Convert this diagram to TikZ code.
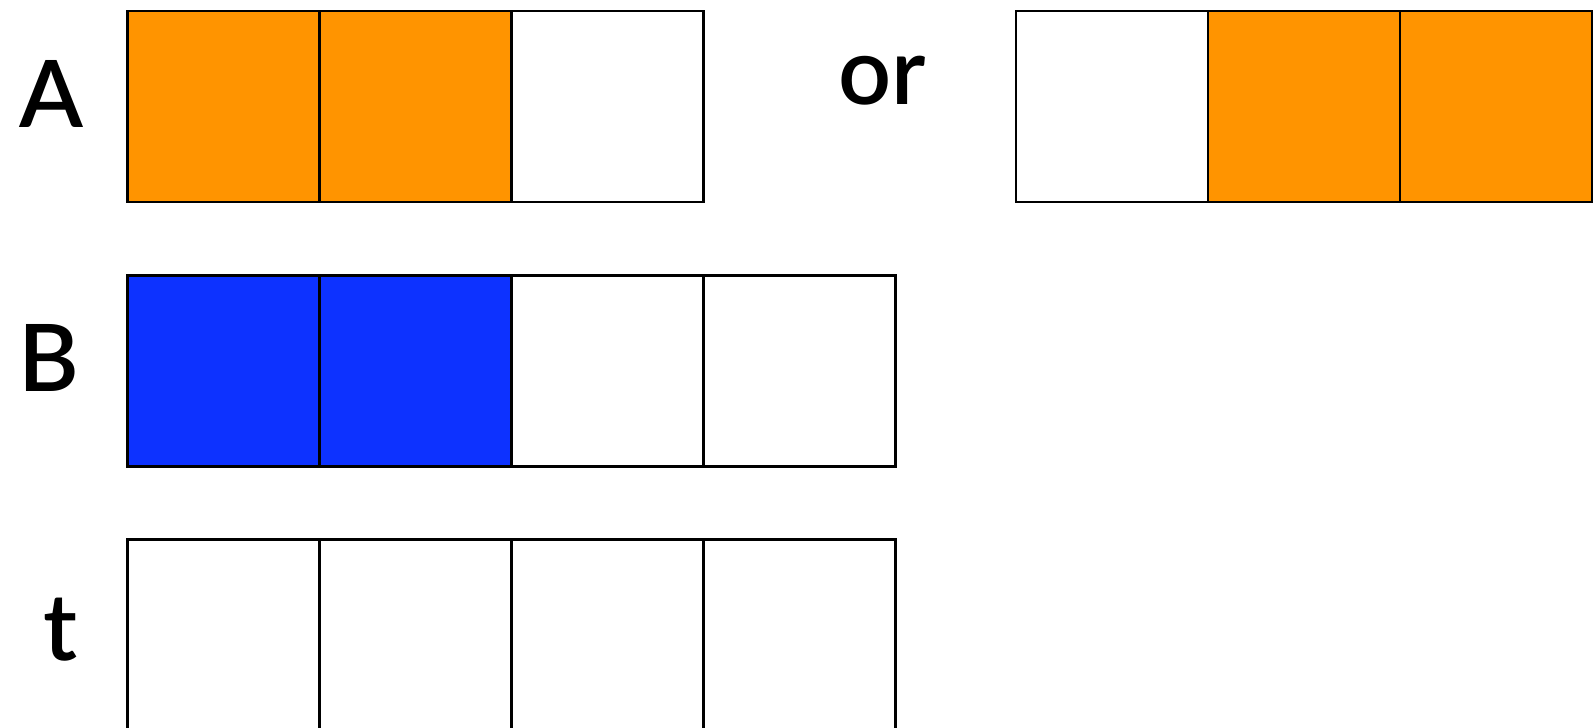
\documentclass[tikz,border=0pt]{standalone}
\usepackage{fontspec}
\setmainfont{Lato}
\newfontfamily\lblfont{Lato Semibold}
\usetikzlibrary{positioning}
\definecolor{cellorange}{RGB}{255,148,0}
\definecolor{cellblue}{RGB}{13,50,255}

\begin{document}
\begin{tikzpicture}[x=0.02cm, y=-0.02cm, thick,
    cell/.style={draw=black, line width=1.4pt, minimum width=3.84cm, minimum height=3.82cm, inner sep=0pt, outer sep=0pt},
    lbl/.style={font=\lblfont\fontsize{53}{53}\selectfont, inner sep=0pt}]
        \useasboundingbox (0,0) rectangle (1596,727);

        % A: 두 칸 채움 (왼쪽 정렬)
        \node[cell, fill=cellorange] (a1) at (223.5,106.5) {};
        \node[cell, fill=cellorange, right=0pt of a1] (a2) {};
        \node[cell, fill=white, right=0pt of a2] (a3) {};

        % A: 또는 오른쪽 정렬
        \node[cell, fill=white] (c1) at (1112,106.5) {};
        \node[cell, fill=cellorange, right=0pt of c1] (c2) {};
        \node[cell, fill=cellorange, right=0pt of c2] (c3) {};

        % B: 네 칸 중 두 칸 채움
        \node[cell, fill=cellblue] (b1) at (223.5,371) {};
        \node[cell, fill=cellblue, right=0pt of b1] (b2) {};
        \node[cell, fill=white, right=0pt of b2] (b3) {};
        \node[cell, fill=white, right=0pt of b3] (b4) {};

        % t: 빈 칸 네 개
        \node[cell, fill=white] (t1) at (223.5,635) {};
        \node[cell, fill=white, right=0pt of t1] (t2) {};
        \node[cell, fill=white, right=0pt of t2] (t3) {};
        \node[cell, fill=white, right=0pt of t3] (t4) {};

        % 글자
        \node[lbl] (labA) at (51,94) {A};
        \node[lbl] (labOr) at (882,81) {or};
        \node[lbl] (labB) at (49,358) {B};
        \node[lbl] (labT) at (61,630) {t};

    \end{tikzpicture}
\end{document}
